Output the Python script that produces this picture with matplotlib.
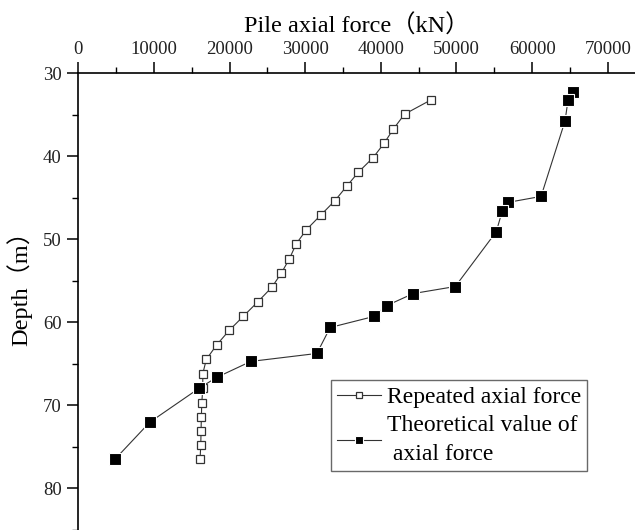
import matplotlib
matplotlib.use('Agg')
import matplotlib.pyplot as plt
from matplotlib.ticker import MultipleLocator

plt.rcParams['font.family'] = ['Liberation Serif', 'Noto Sans CJK SC']

# repeated axial force (open squares)
rep_force = [46620, 43130, 41670, 40440, 38990, 37040, 35460, 33920, 32070,
             30160, 28800, 27920, 26860, 25590, 23770, 21830, 19980, 18310,
             16930, 16460, 16460, 16330, 16270, 16230, 16190, 16100]
rep_depth = [33.21, 34.93, 36.70, 38.42, 40.15, 41.91, 43.64, 45.36, 47.08,
             48.85, 50.57, 52.34, 54.06, 55.79, 57.51, 59.28, 60.96, 62.72,
             64.48, 66.20, 67.94, 69.69, 71.42, 73.14, 74.83, 76.48]

# theoretical value of axial force (filled squares)
theo_force = [65410, 64750, 64350, 61180, 56810, 56060, 55260, 49840, 44280,
              40800, 39080, 33300, 31540, 22810, 18310, 16010, 9450, 4860]
theo_depth = [32.25, 33.21, 35.74, 44.84, 45.56, 46.56, 49.09, 55.70, 56.55,
              57.99, 59.31, 60.64, 63.77, 64.73, 66.65, 67.94, 72.06, 76.51]

fig = plt.figure(figsize=(6.35, 5.3), dpi=100)
ax = fig.add_axes([0.1233, 0.0, 0.8767, 0.8617])

ax.plot(rep_force, rep_depth, color='#333333', lw=0.8, marker='s', ms=6.0,
        mfc='white', mec='#333333', mew=0.9, label='Repeated axial force')
ax.plot(theo_force, theo_depth, color='#333333', lw=0.8, marker='s', ms=8.0,
        mfc='black', mec='white', mew=0.8, label='Theoretical value of\n axial force')

ax.set_xlim(0, 73600)
ax.set_ylim(85.05, 30)

ax.xaxis.tick_top()
ax.xaxis.set_label_position('top')
for s in ['right', 'bottom']:
    ax.spines[s].set_visible(False)
for s in ['top', 'left']:
    ax.spines[s].set_linewidth(1.2)

ax.xaxis.set_major_locator(MultipleLocator(10000))
ax.xaxis.set_minor_locator(MultipleLocator(5000))
ax.yaxis.set_major_locator(MultipleLocator(10))
ax.yaxis.set_minor_locator(MultipleLocator(5))
ax.tick_params(which='major', direction='out', length=8, width=1.1,
               labelsize=13.5, colors='black', labelcolor='#222222')
ax.tick_params(which='minor', direction='out', length=4, width=1.0)
ax.tick_params(axis='x', which='major', pad=3)
ax.tick_params(axis='y', which='major', pad=4)

ax.set_xlabel('Pile axial force（kN）', fontsize=17.5, labelpad=6)
ax.set_ylabel('Depth（m）', fontsize=17.5)
ax.yaxis.set_label_coords(-0.082, 0.541)

leg = ax.legend(loc='upper left', bbox_to_anchor=(0.4534, 0.3284),
                borderaxespad=0, fontsize=17, frameon=True, fancybox=False,
                handlelength=1.85, handletextpad=0.25, labelspacing=0.3,
                borderpad=0.27, markerscale=0.75)
leg.get_frame().set_edgecolor('#444444')
leg.get_frame().set_linewidth(1.0)
for t in leg.get_texts():
    t.set_linespacing(1.5)

fig.savefig('out.png', dpi=100)
